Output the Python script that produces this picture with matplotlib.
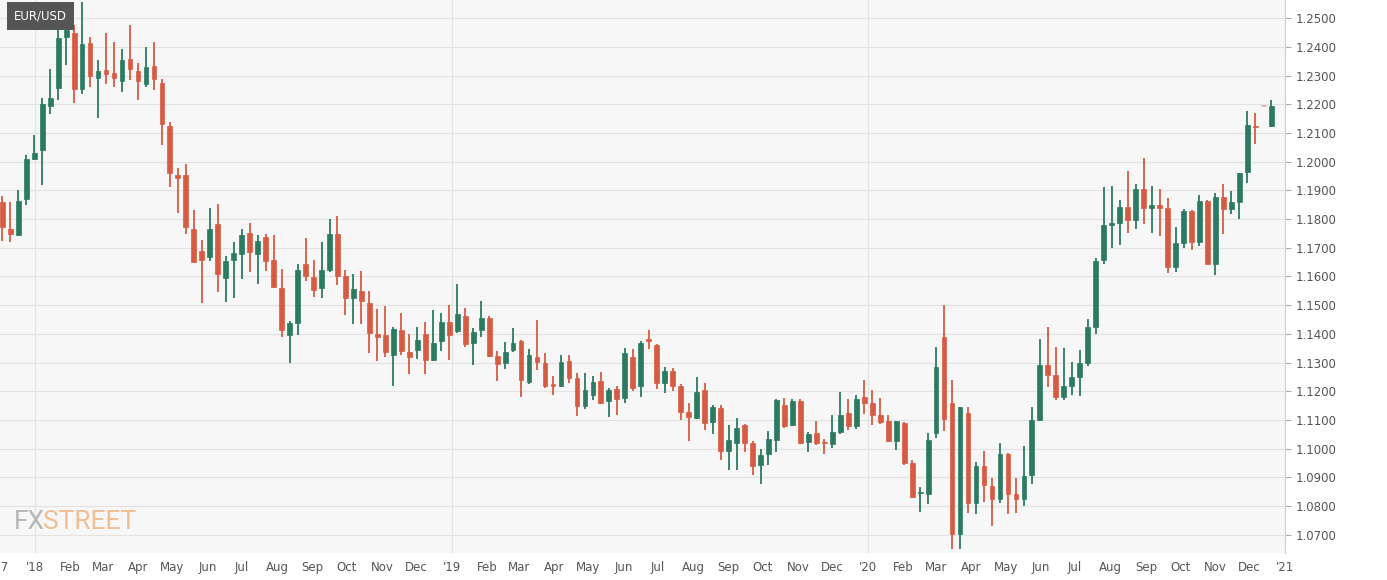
import matplotlib
matplotlib.use("Agg")
import matplotlib.pyplot as plt
import numpy as np
import pandas as pd

opens = [1.1859,1.1766,1.1745,1.1871,1.2010,1.2040,1.2193,1.2257,1.2435,1.2447,
1.2252,1.2412,1.2290,1.2318,1.2309,1.2281,1.2356,1.2315,1.2272,1.2333,
1.2274,1.2123,1.1955,1.1952,1.1764,1.1688,1.1667,1.1784,1.1594,1.1659,
1.1679,1.1750,1.1679,1.1739,1.1658,1.1561,1.1395,1.1438,1.1644,1.1598,
1.1561,1.1623,1.1748,1.1603,1.1525,1.1549,1.1509,1.1399,1.1395,1.1326,
1.1413,1.1338,1.1343,1.1399,1.1308,1.1375,1.1440,1.1411,1.1462,1.1367,
1.1413,1.1456,1.1324,1.1298,1.1344,1.1375,1.1234,1.1321,1.1298,1.1225,
1.1219,1.1305,1.1246,1.1150,1.1186,1.1237,1.1168,1.1208,1.1176,1.1321,
1.1217,1.1384,1.1361,1.1228,1.1272,1.1217,1.1128,1.1108,1.1206,1.1092,
1.1142,1.0991,1.1021,1.1083,1.1020,1.0942,1.0983,1.1029,1.1154,1.1084,
1.1165,1.1023,1.1054,1.1023,1.1017,1.1058,1.1124,1.1081,1.1182,1.1160,
1.1118,1.1095,1.1026,1.1090,1.0951,1.0847,1.0843,1.1055,1.1388,1.1159,
1.0702,1.1124,1.0810,1.0939,1.0872,1.0826,1.0983,1.0843,1.0824,1.0907,
1.1101,1.1292,1.1257,1.1179,1.1219,1.1249,1.1300,1.1425,1.1657,1.1779,
1.1788,1.1843,1.1797,1.1905,1.1840,1.1848,1.1840,1.1634,1.1717,1.1828,
1.1721,1.1863,1.1645,1.1876,1.1835,1.1858,1.1965,1.2122,1.2195,1.2124]
highs = [1.1880,1.1859,1.1902,1.2022,1.2092,1.2220,1.2324,1.2540,1.2481,1.2476,
1.2555,1.2435,1.2353,1.2447,1.2415,1.2391,1.2476,1.2344,1.2398,1.2415,
1.2287,1.2138,1.1978,1.1993,1.1830,1.1726,1.1838,1.1853,1.1673,1.1719,
1.1765,1.1788,1.1745,1.1748,1.1745,1.1627,1.1445,1.1642,1.1734,1.1658,
1.1719,1.1800,1.1812,1.1621,1.1609,1.1618,1.1549,1.1488,1.1496,1.1424,
1.1473,1.1401,1.1424,1.1442,1.1484,1.1474,1.1500,1.1573,1.1492,1.1419,
1.1515,1.1462,1.1342,1.1371,1.1419,1.1380,1.1346,1.1450,1.1332,1.1255,
1.1327,1.1327,1.1263,1.1265,1.1255,1.1266,1.1211,1.1217,1.1350,1.1347,
1.1375,1.1413,1.1364,1.1286,1.1280,1.1225,1.1160,1.1251,1.1229,1.1154,
1.1154,1.1084,1.1108,1.1085,1.1027,1.1000,1.1061,1.1172,1.1177,1.1173,
1.1173,1.1058,1.1098,1.1035,1.1116,1.1197,1.1173,1.1188,1.1239,1.1205,
1.1176,1.1118,1.1098,1.1093,1.0962,1.0868,1.1055,1.1355,1.1500,1.1240,
1.1147,1.1145,1.0953,1.0991,1.0899,1.1020,1.0985,1.0899,1.1011,1.1147,
1.1384,1.1423,1.1353,1.1350,1.1303,1.1345,1.1452,1.1665,1.1910,1.1916,
1.1866,1.1969,1.1922,1.2012,1.1916,1.1905,1.1872,1.1773,1.1834,1.1830,
1.1884,1.1865,1.1890,1.1922,1.1899,1.1962,1.2178,1.2169,1.2195,1.2213]
lows = [1.1725,1.1720,1.1740,1.1848,1.2005,1.1917,1.2165,1.2214,1.2336,1.2206,
1.2235,1.2260,1.2153,1.2270,1.2260,1.2243,1.2286,1.2216,1.2260,1.2251,
1.2057,1.1912,1.1822,1.1749,1.1647,1.1508,1.1653,1.1545,1.1510,1.1526,
1.1592,1.1615,1.1575,1.1618,1.1561,1.1390,1.1299,1.1395,1.1586,1.1528,
1.1526,1.1615,1.1569,1.1465,1.1434,1.1434,1.1334,1.1305,1.1320,1.1218,
1.1326,1.1262,1.1311,1.1262,1.1306,1.1341,1.1309,1.1404,1.1353,1.1292,
1.1390,1.1320,1.1236,1.1277,1.1338,1.1180,1.1226,1.1275,1.1211,1.1188,
1.1215,1.1228,1.1115,1.1138,1.1171,1.1155,1.1110,1.1118,1.1161,1.1202,
1.1182,1.1347,1.1208,1.1194,1.1200,1.1100,1.1027,1.1105,1.1067,1.1052,
1.0962,1.0927,1.0927,1.0988,1.0908,1.0879,1.0942,1.0988,1.1073,1.1080,
1.1018,1.0988,1.1012,1.0983,1.1003,1.1052,1.1064,1.1069,1.1121,1.1084,
1.1087,1.1022,1.0997,1.0945,1.0827,1.0781,1.0809,1.1038,1.1061,1.0650,
1.0650,1.0777,1.0772,1.0814,1.0731,1.0812,1.0772,1.0777,1.0801,1.0876,
1.1098,1.1214,1.1171,1.1170,1.1188,1.1185,1.1290,1.1400,1.1643,1.1698,
1.1709,1.1753,1.1764,1.1783,1.1750,1.1741,1.1613,1.1616,1.1700,1.1692,
1.1705,1.1645,1.1605,1.1748,1.1816,1.1802,1.1924,1.2062,1.2195,1.2119]
closes = [1.1774,1.1749,1.1862,1.2010,1.2030,1.2202,1.2223,1.2429,1.2458,1.2252,
1.2409,1.2298,1.2316,1.2307,1.2290,1.2353,1.2324,1.2281,1.2330,1.2287,
1.2130,1.1960,1.1944,1.1772,1.1652,1.1659,1.1766,1.1609,1.1653,1.1682,
1.1746,1.1684,1.1723,1.1655,1.1565,1.1413,1.1438,1.1621,1.1601,1.1554,
1.1624,1.1748,1.1603,1.1525,1.1557,1.1514,1.1403,1.1390,1.1338,1.1416,
1.1340,1.1320,1.1380,1.1309,1.1370,1.1442,1.1396,1.1471,1.1364,1.1405,
1.1457,1.1323,1.1294,1.1336,1.1367,1.1238,1.1327,1.1303,1.1219,1.1217,
1.1301,1.1248,1.1150,1.1203,1.1234,1.1159,1.1205,1.1173,1.1335,1.1211,
1.1369,1.1375,1.1228,1.1272,1.1220,1.1127,1.1110,1.1199,1.1089,1.1145,
1.0991,1.1029,1.1073,1.1020,1.0940,1.0977,1.1035,1.1170,1.1081,1.1165,
1.1020,1.1052,1.1020,1.1020,1.1058,1.1119,1.1081,1.1173,1.1160,1.1119,
1.1092,1.1026,1.1095,1.0949,1.0833,1.0849,1.1029,1.1286,1.1105,1.0702,
1.1144,1.0810,1.0939,1.0873,1.0826,1.0983,1.0843,1.0824,1.0905,1.1099,
1.1292,1.1257,1.1179,1.1219,1.1249,1.1300,1.1425,1.1655,1.1779,1.1788,
1.1843,1.1797,1.1905,1.1840,1.1848,1.1840,1.1634,1.1715,1.1828,1.1721,
1.1863,1.1645,1.1878,1.1835,1.1858,1.1962,1.2128,1.2120,1.2195,1.2195]
tick_labels = ["'17","'18","Feb","Mar","Apr","May","Jun","Jul","Aug","Sep","Oct","Nov","Dec",
               "'19","Feb","Mar","Apr","May","Jun","Jul","Aug","Sep","Oct","Nov","Dec",
               "'20","Feb","Mar","Apr","May","Jun","Jul","Aug","Sep","Oct","Nov","Dec","'21"]

dates = pd.date_range("2017-12-03", periods=len(opens), freq="7D")
xd = matplotlib.dates.date2num(dates)
month_starts = matplotlib.dates.date2num(pd.date_range("2017-12-01", "2021-01-01", freq="MS"))

GREEN = "#2b7a61"
RED = "#d75b43"
fig = plt.figure(figsize=(13.87, 5.8), dpi=100)
fig.patch.set_facecolor("white")
ax = fig.add_axes([0, 27/580, 1285/1387, 553/580])
ax.set_facecolor("#f7f7f7")

o = np.array(opens); h = np.array(highs); l = np.array(lows); c = np.array(closes)
n = len(o)
for i in range(n):
    col = GREEN if c[i] >= o[i] else RED
    alpha = 1.0
    if i == n - 2:
        col, alpha = RED, 0.35
    ax.vlines(xd[i], l[i], h[i], color=col, lw=1.3, alpha=alpha, zorder=2)
    bot = min(o[i], c[i]); ht = max(abs(c[i] - o[i]), 0.0004)
    ax.bar(xd[i], ht, bottom=bot, width=4.2, color=col, edgecolor=col, lw=0.5, alpha=alpha, zorder=3)

ax.set_ylim(1.0637, 1.2563)
ax.set_xlim(xd[0] - 1, matplotlib.dates.date2num(pd.Timestamp("2021-01-01")) - 0.2)
ax.set_yticks(np.arange(1.07, 1.2501, 0.01))
ax.yaxis.tick_right()
ax.yaxis.set_major_formatter(matplotlib.ticker.FormatStrFormatter("%.4f"))
ax.set_xticks(month_starts)
ax.set_xticklabels(tick_labels)
ax.tick_params(axis="both", labelsize=8.5, colors="#555555", length=4, color="#aaaaaa")
ax.tick_params(axis="x", length=0, pad=6)
ax.grid(axis="y", color="#e3e3e3", lw=0.9, zorder=0)
for yr in ["2018-01-01", "2019-01-01", "2020-01-01"]:
    ax.axvline(matplotlib.dates.date2num(pd.Timestamp(yr)), color="#e3e3e3", lw=0.9, zorder=0)
for s in ["top", "left", "bottom"]:
    ax.spines[s].set_visible(False)
ax.spines["right"].set_color("#cccccc")

fig.text(14/1387, 1 - 16/580, "EUR/USD", fontsize=8.5, color="white", va="center", ha="left",
         bbox=dict(boxstyle="square,pad=0.6", fc="#555555", ec="none"))
fig.text(14/1387, 1 - 522/580, "FX", fontsize=19, color="#b0b0b0", fontfamily="Roboto", va="center", alpha=0.9)
fig.text(43/1387, 1 - 522/580, "STREET", fontsize=19, color="#f0b887", fontfamily="Roboto", va="center", alpha=0.9)

fig.savefig("out.png", dpi=100)
